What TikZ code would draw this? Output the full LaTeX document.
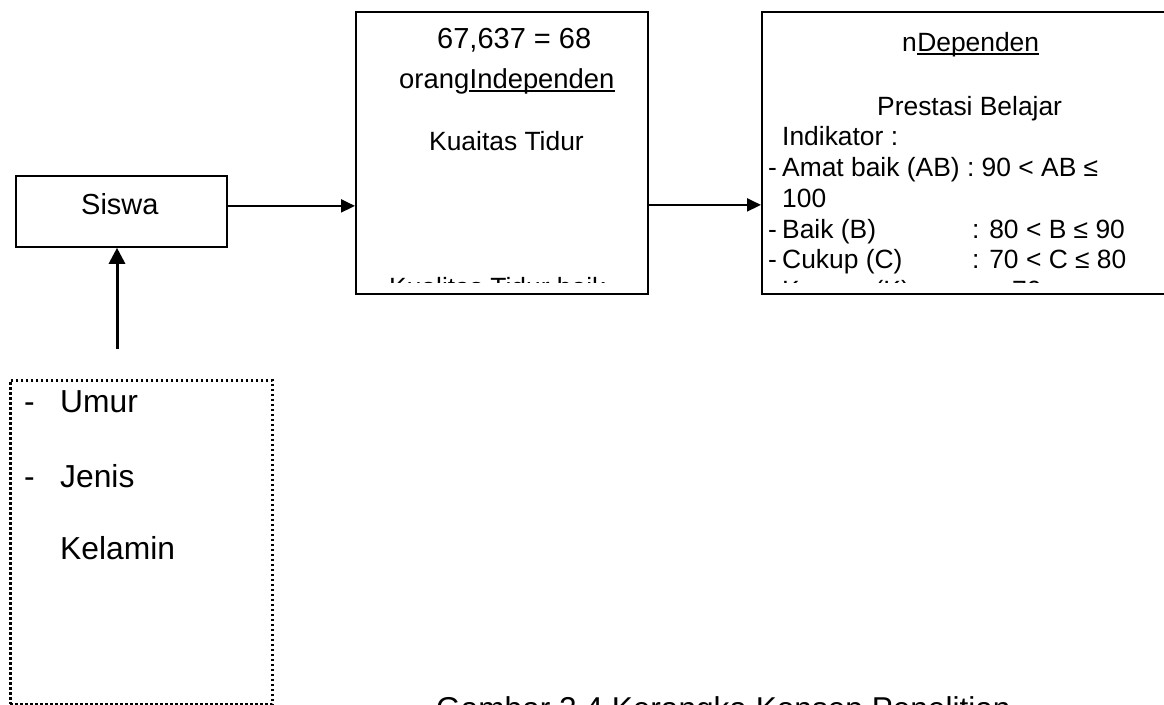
\documentclass[tikz,border=0pt]{standalone}
\usepackage{fontspec}
\setmainfont{Liberation Sans}
\usetikzlibrary{arrows.meta}
\newcommand{\fsSiswa}{\fontsize{29pt}{33pt}\selectfont}
\newcommand{\fsMidA}{\fontsize{29pt}{33pt}\selectfont}
\newcommand{\fsMidB}{\fontsize{27.4pt}{31pt}\selectfont}
\newcommand{\fsMidC}{\fontsize{26.4pt}{30pt}\selectfont}
\newcommand{\fsDep}{\fontsize{26.4pt}{30pt}\selectfont}
\newcommand{\fsAttr}{\fontsize{31.8pt}{36pt}\selectfont}
\newcommand{\fsCap}{\fontsize{31.6pt}{36pt}\selectfont}
\tikzset{
  box/.style={draw, line width=1.8pt, inner sep=0pt, anchor=north west},
  dotbox/.style={draw, line width=2.6pt, dash pattern=on 2.6pt off 2.4pt, inner sep=0pt, anchor=north west},
  txt/.style={inner sep=0pt, anchor=base west},
  arr/.style={line width=2pt, -{Triangle[length=14pt,width=13pt]}},
  uparr/.style={line width=3pt, -{Triangle[length=16pt,width=16pt]}},
  ul/.style={line width=1.4pt},
}
\begin{document}
\begin{tikzpicture}[x=1pt,y=-1pt]
\useasboundingbox (0,0) rectangle (1164,704);
\clip (0,0) rectangle (1164,704);

% boxes
\node[box, minimum width=211pt, minimum height=71pt] (siswa) at (15,175) {};
\node[box, minimum width=292pt, minimum height=282pt] (mid) at (355,11) {};
\node[box, minimum width=430pt, minimum height=282pt] (dep) at (761,11) {};
\node[dotbox, minimum width=262pt, minimum height=324pt] (attr) at (9,379) {};

% Siswa
\node[txt, font=\fsSiswa] (siswalbl) at (81,214) {Siswa};

% middle box texts
\node[txt, font=\fsMidA] (m1) at (437,48) {67,637 = 68};
\node[txt, font=\fsMidB] (m2a) at (399,88) {orang};
\node[txt, font=\fsMidB] (m2b) at (m2a.base east) {Independen};
\draw[ul] ([yshift=-3pt]m2b.base west) -- ([yshift=-3pt]m2b.base east);
\node[txt, font=\fsMidC] (m3) at (429,150) {Kuaitas Tidur};
\begin{scope}
  \clip (356,12) rectangle (646,282);
  \node[txt, font=\fsMidC] (m4) at (389,296) {Kualitas Tidur baik};
\end{scope}

% right box texts
\node[txt, font=\fsDep] (d1a) at (902,51) {n};
\node[txt, font=\fsDep] (d1b) at (d1a.base east) {Dependen};
\draw[ul] ([yshift=-3pt]d1b.base west) -- ([yshift=-3pt]d1b.base east);
\node[txt, font=\fsDep] (d2) at (877,115) {Prestasi Belajar};
\node[txt, font=\fsDep] (d3) at (782,145) {Indikator :};
\node[txt, font=\fsDep] (d4m) at (768,176) {-};
\node[txt, font=\fsDep] (d4a) at (782,176) {Amat baik (AB) : 90 < AB ≤};
\node[txt, font=\fsDep] (d5) at (782,207) {100};
\node[txt, font=\fsDep] (d6m) at (768,238) {-};
\node[txt, font=\fsDep] (d6a) at (782,238) {Baik (B)};
\node[txt, font=\fsDep] (d6b) at (972,238) {: 80 < B ≤ 90};
\node[txt, font=\fsDep] (d7m) at (768,268) {-};
\node[txt, font=\fsDep] (d7a) at (782,268) {Cukup (C)};
\node[txt, font=\fsDep] (d7b) at (972,268) {: 70 < C ≤ 80};
\begin{scope}
  \clip (762,12) rectangle (1164,282);
  \node[txt, font=\fsDep] (d8m) at (768,299) {-};
  \node[txt, font=\fsDep] (d8a) at (782,299) {Kurang (K)};
  \node[txt, font=\fsDep] (d8b) at (972,299) {: < 70};
\end{scope}

% attribute box texts
\node[txt, font=\fsAttr] (a1m) at (24,412) {-};
\node[txt, font=\fsAttr] (a1) at (60,412) {Umur};
\node[txt, font=\fsAttr] (a2m) at (24,487) {-};
\node[txt, font=\fsAttr] (a2) at (60,487) {Jenis};
\node[txt, font=\fsAttr] (a3) at (60,559) {Kelamin};

% caption
\node[txt, font=\fsCap] (cap) at (436,719) {Gambar 2.4 Kerangka Konsep Penelitian};

% connectors
\draw[arr] ([yshift=5.5pt]siswa.east) -- ([yshift=5.5pt]siswa.east -| mid.west);
\draw[arr] ([yshift=-52pt]mid.east) -- ([yshift=-52pt]mid.east -| dep.west);
\coordinate (upstart) at (117,349);
\draw[uparr] (upstart) -- (upstart |- siswa.south);
\end{tikzpicture}
\end{document}
